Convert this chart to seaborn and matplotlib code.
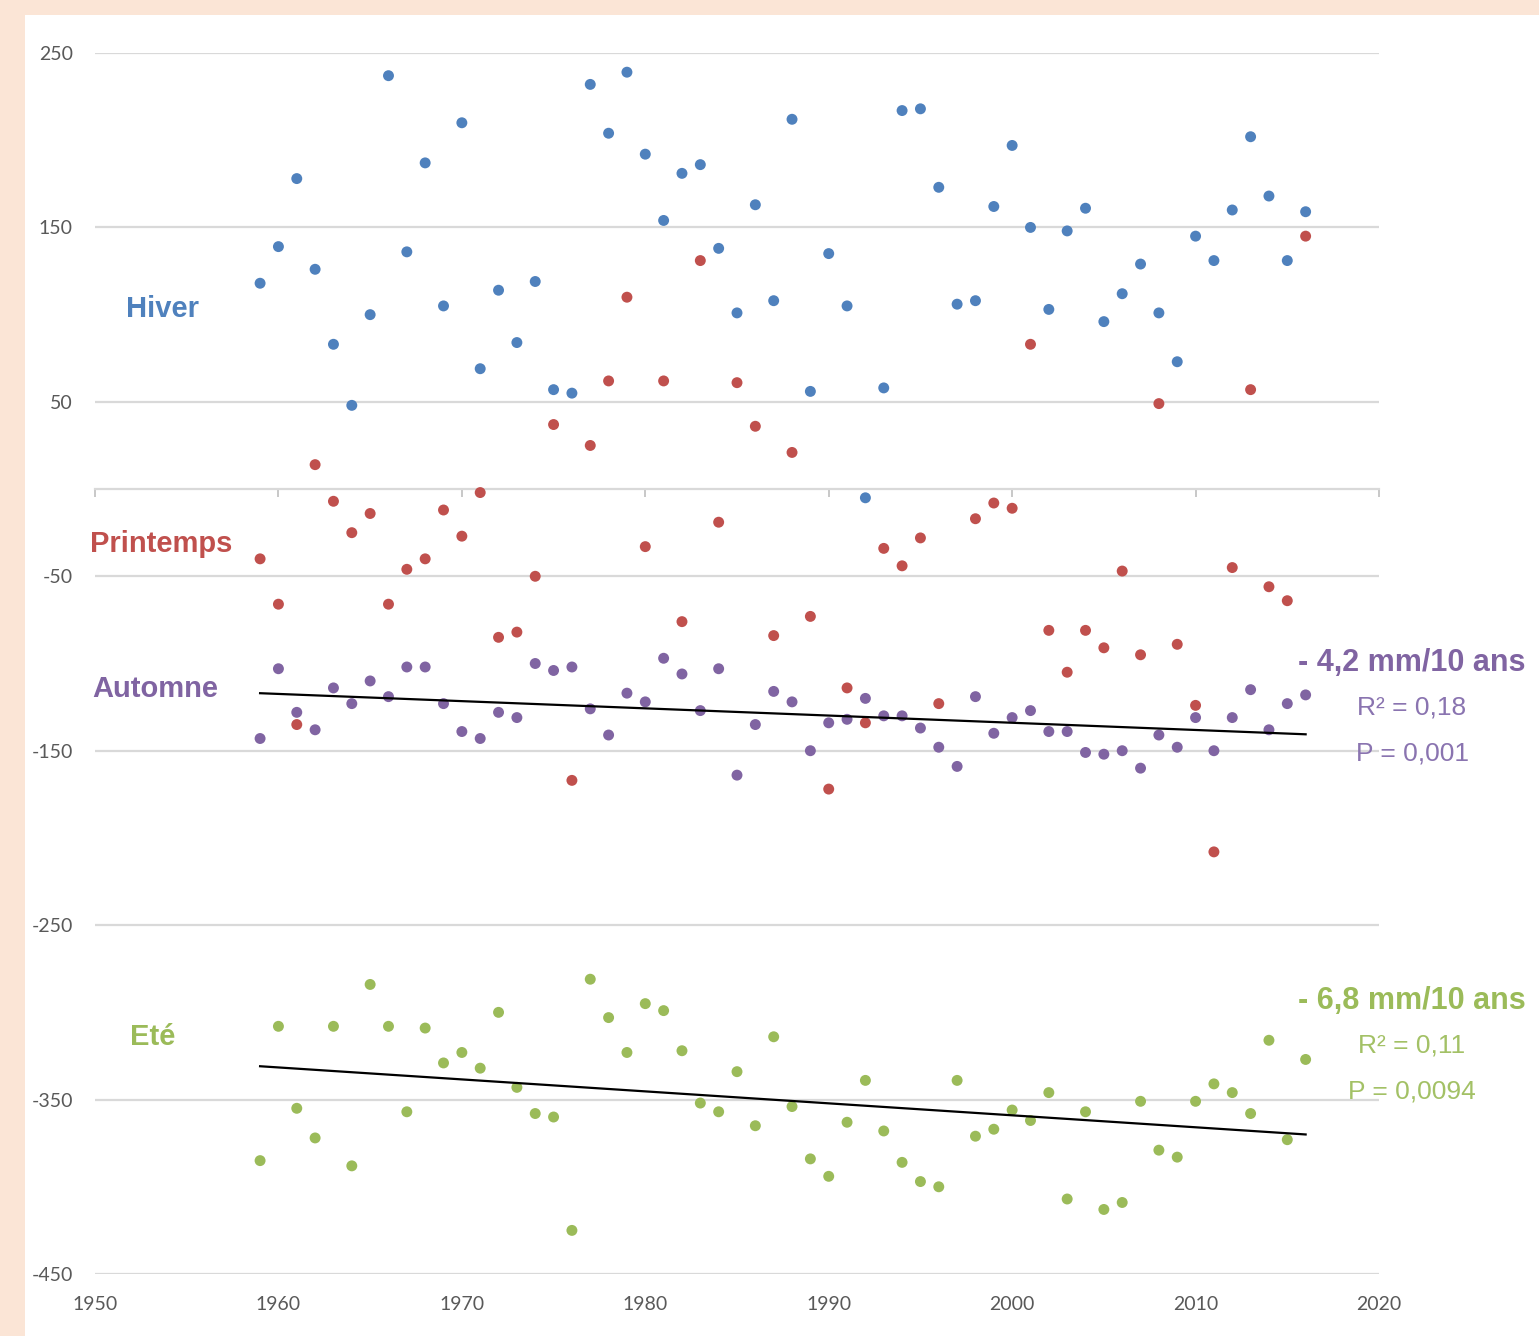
import numpy as np
import pandas as pd
import matplotlib
matplotlib.use("Agg")
import matplotlib.pyplot as plt
import seaborn as sns
from matplotlib.patches import Rectangle

# ---------------- data ----------------
years = list(range(1959, 2017))
hiver = [118, 139, 178, 126, 83, 48, 100, 237, 136, 187,
         105, 210, 69, 114, 84, 119, 57, 55, 232, 204,
         239, 192, 154, 181, 186, 138, 101, 163, 108, 212,
         56, 135, 105, -5, 58, 217, 218, 173, 106, 108,
         162, 197, 150, 103, 148, 161, 96, 112, 129, 101,
         73, 145, 131, 160, 202, 168, 131, 159]
printemps = [-40, -66, -135, 14, -7, -25, -14, -66, -46, -40,
             -12, -27, -2, -85, -82, -50, 37, -167, 25, 62,
             110, -33, 62, -76, 131, -19, 61, 36, -84, 21,
             -73, -172, -114, -134, -34, -44, -28, -123, np.nan, -17,
             -8, -11, 83, -81, -105, -81, -91, -47, -95, 49,
             -89, -124, -208, -45, 57, -56, -64, 145]
automne = [-143, -103, -128, -138, -114, -123, -110, -119, -102, -102,
           -123, -139, -143, -128, -131, -100, -104, -102, -126, -141,
           -117, -122, -97, -106, -127, -103, -164, -135, -116, -122,
           -150, -134, -132, -120, -130, -130, -137, -148, -159, -119,
           -140, -131, -127, -139, -139, -151, -152, -150, -160, -141,
           -148, -131, -150, -131, -115, -138, -123, -118]
ete = [-385, -308, -355, -372, -308, -388, -284, -308, -357, -309,
       -329, -323, -332, -300, -343, -358, -360, -425, -281, -303,
       -323, -295, -299, -322, -352, -357, -334, -365, -314, -354,
       -384, -394, -363, -339, -368, -386, -397, -400, -339, -371,
       -367, -356, -362, -346, -407, -357, -413, -409, -351, -379,
       -383, -351, -341, -346, -358, -316, -373, -327]

seasons = ["Hiver", "Printemps", "Automne", "Eté"]
colors = {"Hiver": "#4f81bd", "Printemps": "#c0504d",
          "Automne": "#8064a2", "Eté": "#9bbb59"}
x_ticks = [1950, 1960, 1970, 1980, 1990, 2000, 2010, 2020]
y_ticks = [-450, -350, -250, -150, -50, 50, 150, 250]

df = pd.concat([
    pd.DataFrame({"year": years, "value": vals, "season": name})
    for name, vals in zip(seasons, [hiver, printemps, automne, ete])
], ignore_index=True).dropna()

# ---------------- figure ----------------
W, H = 1539, 1336
plt.rcParams["font.family"] = ["Lato", "DejaVu Sans"]
plt.rcParams["axes.unicode_minus"] = False
fig = plt.figure(figsize=(W / 100, H / 100), dpi=100, facecolor="#fbe5d6")
fig.add_artist(Rectangle((25 / W, 0), 1 - 25 / W, 1 - 15 / H,
                         transform=fig.transFigure, facecolor="white",
                         edgecolor="none", zorder=0))

ax = fig.add_axes([95 / W, 1 - 1274 / H, (1379 - 95) / W, (1274 - 53) / H])
ax.set_facecolor("none")

sns.scatterplot(data=df, x="year", y="value", hue="season", palette=colors,
                hue_order=seasons, s=62, linewidth=0, legend=False, ax=ax,
                zorder=3)

for name in ["Automne", "Eté"]:
    sns.regplot(data=df[df.season == name], x="year", y="value",
                scatter=False, ci=None, color="black",
                line_kws={"lw": 1.6, "zorder": 4}, ax=ax)

ax.set_xlim(1950, 2020)
ax.set_ylim(-450, 250)
ax.set_xlabel("")
ax.set_ylabel("")
ax.set_yticks(y_ticks)
ax.yaxis.grid(True, color="#d9d9d9", lw=1.6)
ax.xaxis.grid(False)
ax.set_axisbelow(True)
for s in ["top", "right", "left"]:
    ax.spines[s].set_visible(False)
ax.spines["bottom"].set_position(("data", 0))
ax.spines["bottom"].set_color("#d9d9d9")
ax.spines["bottom"].set_linewidth(1.6)
ax.set_xticks(x_ticks)
ax.tick_params(axis="x", direction="out", length=6, width=1.2,
               color="#bfbfbf", labelbottom=False)
ax.tick_params(axis="y", length=0, pad=16, labelsize=14, labelcolor="#595959")

sec = ax.secondary_xaxis("bottom")
sec.set_xticks(x_ticks)
sec.tick_params(length=0, pad=16, labelsize=14, labelcolor="#595959")
sec.spines["bottom"].set_visible(False)

# ---------------- texts ----------------
lab_font = ["Liberation Sans", "DejaVu Sans"]

def ftext(px, py, s, **kw):
    fig.text(px / W, 1 - py / H, s, family=lab_font, **kw)

ftext(126, 317, "Hiver", color=colors["Hiver"], fontsize=21, weight="bold",
      ha="left", va="baseline")
ftext(90, 552, "Printemps", color=colors["Printemps"], fontsize=21,
      weight="bold", ha="left", va="baseline")
ftext(92, 697, "Automne", color=colors["Automne"], fontsize=21,
      weight="bold", ha="left", va="baseline")
ftext(130, 1045, "Eté", color=colors["Eté"], fontsize=21, weight="bold",
      ha="left", va="baseline")

cx = 1412
ftext(cx, 671, "- 4,2 mm/10 ans", color=colors["Automne"], fontsize=22,
      weight="bold", ha="center", va="baseline")
ftext(cx, 715, "R² = 0,18", color="#8a74b0", fontsize=19, ha="center",
      va="baseline")
ftext(cx, 761, "P = 0,001", color="#8a74b0", fontsize=19, ha="center",
      va="baseline")
ftext(cx, 1009, "- 6,8 mm/10 ans", color=colors["Eté"], fontsize=22,
      weight="bold", ha="center", va="baseline")
ftext(cx, 1053, "R² = 0,11", color="#a3c166", fontsize=19, ha="center",
      va="baseline")
ftext(cx, 1099, "P = 0,0094", color="#a3c166", fontsize=19, ha="center",
      va="baseline")

fig.savefig("out.png", dpi=100, facecolor=fig.get_facecolor())
